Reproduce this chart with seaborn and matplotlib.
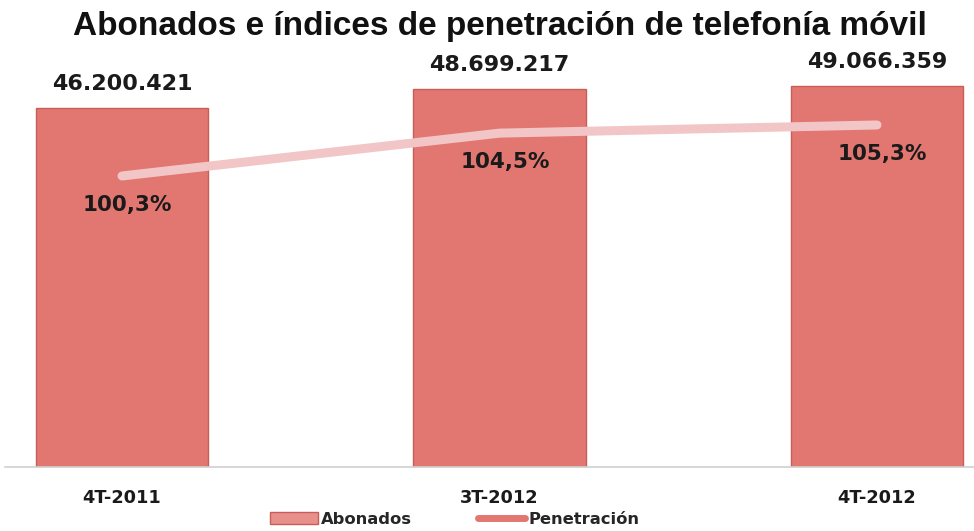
import matplotlib
matplotlib.use("Agg")
import matplotlib.pyplot as plt
import seaborn as sns
import pandas as pd
from matplotlib.patches import Patch
from matplotlib.lines import Line2D

periods = ["4T-2011", "3T-2012", "4T-2012"]
abonados = [46200421, 48699217, 49066359]
penetracion = [100.3, 104.5, 105.3]
abonados_labels = ["46.200.421", "48.699.217", "49.066.359"]
penetracion_labels = ["100,3%", "104,5%", "105,3%"]
title = "Abonados e índices de penetración de telefonía móvil"

sns.set_style("white")
plt.rcParams['font.family'] = ['DejaVu Sans']

W, H = 974, 531
fig = plt.figure(figsize=(W / 100, H / 100), dpi=100)
ax_left, ax_right, ax_bottom, ax_top = 5, 974, 467, 40
ax = fig.add_axes([ax_left / W, (H - ax_bottom) / H, (ax_right - ax_left) / W, (ax_bottom - ax_top) / H])

df = pd.DataFrame({"periodo": periods, "abonados": abonados, "pen": penetracion})
bar_color = "#e27670"
sns.barplot(data=df, x="periodo", y="abonados", order=periods, color=bar_color,
            width=0.456, edgecolor="#c95d58", linewidth=1, saturation=1, ax=ax)
ax.set_xlim(-0.31, 2.257)
ax.set_ylim(0, 55e6)
ax.set_xlabel("")
ax.set_ylabel("")
ax.set_yticks([])
ax.tick_params(axis="x", length=0, pad=16)
for lbl in ax.get_xticklabels():
    lbl.set_fontweight("bold")
    lbl.set_fontsize(12.8)
    lbl.set_color("#1a1a1a")
for s in ["top", "right", "left"]:
    ax.spines[s].set_visible(False)
ax.spines["bottom"].set_color("#d0d0d0")
ax.spines["bottom"].set_linewidth(1.2)

for i, (v, t) in enumerate(zip(abonados, abonados_labels)):
    ax.annotate(t, (i, v), xytext=(0, 10), textcoords="offset points",
                ha="center", va="bottom", fontsize=16, fontweight="bold", color="#1a1a1a")

ax2 = ax.twinx()
sns.lineplot(data=df, x="periodo", y="pen", ax=ax2, color="#f2c6c6", linewidth=6.5,
             solid_capstyle="round", sort=False)
ax2.set_ylim(71.77, 113.63)
ax2.set_xlim(-0.31, 2.257)
ax2.set_yticks([])
ax2.set_ylabel("")
ax2.set_xlabel("")
for s in ["top", "right", "left", "bottom"]:
    ax2.spines[s].set_visible(False)
for i, (v, t) in enumerate(zip(penetracion, penetracion_labels)):
    ax2.annotate(t, (i, v), xytext=(4, -21), textcoords="offset points",
                 ha="center", va="center", fontsize=15.5, fontweight="bold", color="#1a1a1a")

fig.text(500 / W, 1 - 26 / H, title, ha="center", va="center",
         fontsize=24, fontweight="bold", family="Liberation Sans", color="#111111")

handles = [Patch(facecolor="#e8918c", edgecolor="#c95d58"),
           Line2D([0], [0], color=bar_color, linewidth=5, solid_capstyle="round")]
fig.legend(handles, ["Abonados", "Penetración"], loc="center", bbox_to_anchor=(455 / W, 1 - 519 / H),
           ncol=2, frameon=False, handlelength=2.9, handleheight=0.8, columnspacing=4,
           handletextpad=0.2, prop={"weight": "bold", "size": 11.8})

fig.savefig("out.png", dpi=100)
